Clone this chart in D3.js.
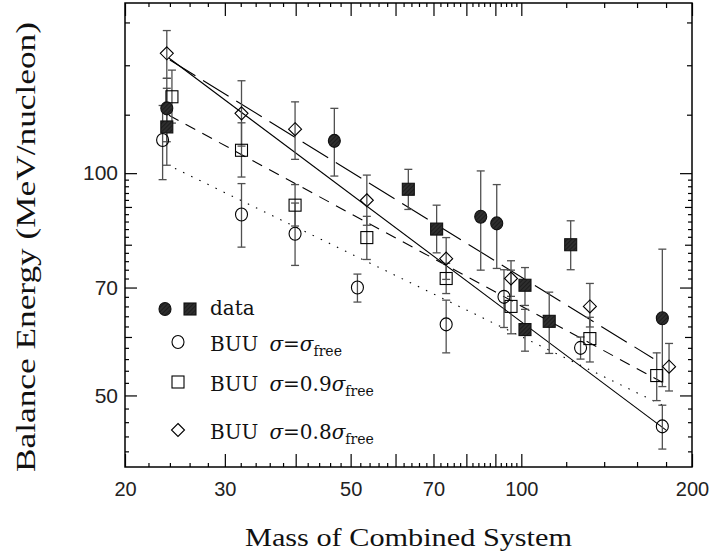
<!DOCTYPE html>
<html>
<head>
<meta charset="utf-8">
<script src="https://cdn.jsdelivr.net/npm/d3@7"></script>
<style>
  body { margin: 0; background: #fff; }
  svg { display: block; }
</style>
</head>
<body>
<div class="viz"></div>
<script>
// [mass, energy, errLow, errHigh]
const dataCircles = [
  [23.7, 122.4, 110.3, 134.4],
  [46.8, 110.6, 99.1, 122.4],
  [84.8, 87.3, 73.9, 100.7],
  [90.5, 85.5, 74.3, 96.5],
  [177.3, 63.6, 51.4, 78.9]
];
const dataSquares = [
  [23.7, 115.5, 102.5, 130.3],
  [63.2, 95.1, 89.3, 101.2],
  [70.9, 84.0, 78.0, 90.5],
  [101.5, 70.5, 66.2, 74.5],
  [101.5, 61.4, 57.4, 65.4],
  [112.0, 63.0, 57.0, 69.0],
  [122.2, 80.0, 74.0, 86.2]
];
const buuFree = [
  [23.3, 110.9, 98.0, 123.5],
  [32.1, 87.9, 79.4, 96.8],
  [39.9, 82.8, 75.0, 91.1],
  [51.4, 70.0, 66.9, 73.0],
  [73.7, 62.4, 57.1, 67.3],
  [93.2, 68.0, 61.8, 74.0],
  [127.2, 58.0, 56.0, 60.0],
  [177.3, 45.4, 42.3, 48.5]
];
const buu09 = [
  [24.2, 126.9, 116.9, 137.9],
  [32.1, 107.4, 98.8, 117.0],
  [39.9, 90.5, 84.8, 96.5],
  [53.4, 81.8, 76.4, 87.4],
  [73.7, 72.0, 68.7, 75.5],
  [95.9, 66.0, 60.6, 73.9],
  [132.1, 59.7, 55.5, 63.8],
  [173.3, 53.2, 49.2, 57.1]
];
const buu08 = [
  [23.7, 145.3, 134.4, 156.0],
  [32.1, 120.5, 108.8, 133.4],
  [39.9, 114.7, 104.4, 124.9],
  [53.4, 91.9, 85.0, 99.4],
  [73.7, 76.6, 71.8, 81.8],
  [95.9, 72.0, 68.1, 76.1],
  [132.1, 66.0, 61.9, 70.9],
  [182.2, 54.7, 50.7, 58.8]
];
// fit lines: [[mass, energy], [mass, energy]]
const fitSolid = [[23.9, 143.2], [180.5, 44.8]];
const fitLongDash = [[24.0, 142.3], [170.9, 56.1]];
const fitDash = [[23.9, 119.8], [180.5, 51.7]];
const fitDot = [[24.5, 101.5], [180.5, 48.2]];

const xLabelTicks = [20, 30, 50, 70, 100, 200];
const xTenTicks = [40, 60, 80, 90];
const xMinorTicks = d3.range(22, 100, 2).filter(v => v % 10 !== 0);
const xHighTicks = [120, 140, 160, 180];
const yLabelTicks = [50, 70, 100];
const yTenTicks = [60, 80, 90];
const yMinorTicks = d3.range(42, 100, 2).filter(v => v % 10 !== 0);
const yHighTicks = [120, 140, 160];

const width = 712, height = 557;
const mLeft = 125, mRight = 692, mTop = 3, mBottom = 467;

const svg = d3.select('.viz').append('svg')
  .attr('width', width).attr('height', height);

const x = d3.scaleLog().domain([20, 200]).range([mLeft, mRight]);
const y = d3.scaleLog().domain([40, 170]).range([mBottom, mTop]);

// hatched fill for data markers
const defs = svg.append('defs');
const pat = defs.append('pattern')
  .attr('id', 'hatch').attr('patternUnits', 'userSpaceOnUse')
  .attr('width', 3).attr('height', 3)
  .attr('patternTransform', 'rotate(45)');
pat.append('rect').attr('width', 3).attr('height', 3).attr('fill', '#2e2e2e');
pat.append('line').attr('x1', 0).attr('y1', 0).attr('x2', 0).attr('y2', 3)
  .attr('stroke', '#111').attr('stroke-width', 1.2);

// ticks on all four sides, pointing inward
function ticks(axisFn, pos, values, size, labels, pad) {
  const ax = axisFn(axisFn === d3.axisBottom || axisFn === d3.axisTop ? x : y)
    .tickValues(values).tickSize(size).tickPadding(pad || 6)
    .tickFormat(labels ? d3.format('d') : () => '');
  const g = svg.append('g').attr('transform', pos).call(ax);
  g.select('.domain').remove();
  g.selectAll('line').attr('stroke', '#000').attr('stroke-width', 1.2);
  return g;
}
const bt = `translate(0,${mBottom})`, tp = `translate(0,${mTop})`;
const lf = `translate(${mLeft},0)`, rt = `translate(${mRight},0)`;

const xb = ticks(d3.axisBottom, bt, xLabelTicks, -13, true, 15);
ticks(d3.axisBottom, bt, xTenTicks, -13, false);
ticks(d3.axisBottom, bt, xMinorTicks, -4, false);
ticks(d3.axisBottom, bt, xHighTicks, -5, false);
ticks(d3.axisBottom, tp, xLabelTicks.concat(xTenTicks), 13, false);
ticks(d3.axisBottom, tp, xMinorTicks, 4, false);
ticks(d3.axisBottom, tp, xHighTicks, 5, false);

const yl = ticks(d3.axisLeft, lf, yLabelTicks, -12, true, 7);
ticks(d3.axisLeft, lf, yTenTicks, -7, false);
ticks(d3.axisLeft, lf, yMinorTicks, -4, false);
ticks(d3.axisLeft, lf, yHighTicks, -5, false);
ticks(d3.axisLeft, rt, yLabelTicks, 12, false);
ticks(d3.axisLeft, rt, yTenTicks, 7, false);
ticks(d3.axisLeft, rt, yMinorTicks, 4, false);
ticks(d3.axisLeft, rt, yHighTicks, 5, false);

xb.selectAll('text').attr('font-family', 'Liberation Sans, Arial, sans-serif')
  .attr('font-size', 20).attr('fill', '#222');
yl.selectAll('text').attr('font-family', 'Liberation Sans, Arial, sans-serif')
  .attr('font-size', 21).attr('fill', '#222');

// frame
svg.append('rect')
  .attr('x', mLeft).attr('y', mTop)
  .attr('width', mRight - mLeft).attr('height', mBottom - mTop)
  .attr('fill', 'none').attr('stroke', '#000').attr('stroke-width', 1.5);

// fit lines
const line = d3.line().x(d => x(d[0])).y(d => y(d[1]));
[[fitSolid, null], [fitLongDash, '30,9'], [fitDash, '11,8'], [fitDot, '1.5,7.5']]
  .forEach(([pts, dash]) => {
    svg.append('path').datum(pts)
      .attr('d', line)
      .attr('fill', 'none').attr('stroke', '#000').attr('stroke-width', 1.1)
      .attr('stroke-dasharray', dash);
  });

// error bars
function errorBars(data) {
  const g = svg.append('g').attr('stroke', '#505050').attr('stroke-width', 1.3);
  g.selectAll('.bar').data(data).join('line')
    .attr('x1', d => x(d[0])).attr('x2', d => x(d[0]))
    .attr('y1', d => y(d[2])).attr('y2', d => y(d[3]));
  g.selectAll('.lo').data(data).join('line')
    .attr('x1', d => x(d[0]) - 4).attr('x2', d => x(d[0]) + 4)
    .attr('y1', d => y(d[2])).attr('y2', d => y(d[2]));
  g.selectAll('.hi').data(data).join('line')
    .attr('x1', d => x(d[0]) - 4).attr('x2', d => x(d[0]) + 4)
    .attr('y1', d => y(d[3])).attr('y2', d => y(d[3]));
}
[buuFree, buu09, buu08, dataSquares, dataCircles].forEach(errorBars);

// marker shapes
const shapes = {
  circle: (g, cx, cy, filled) => g.append('ellipse')
    .attr('cx', cx).attr('cy', cy).attr('rx', 6).attr('ry', 6.5)
    .attr('fill', filled ? 'url(#hatch)' : 'none')
    .attr('stroke', filled ? '#111' : '#000').attr('stroke-width', 1.1),
  square: (g, cx, cy, filled) => g.append('rect')
    .attr('x', cx - 6).attr('y', cy - 6).attr('width', 12).attr('height', 12)
    .attr('fill', filled ? 'url(#hatch)' : 'none')
    .attr('stroke', filled ? '#111' : '#000').attr('stroke-width', 1.1),
  diamond: (g, cx, cy) => g.append('path')
    .attr('d', `M${cx},${cy - 6.5}L${cx + 6.5},${cy}L${cx},${cy + 6.5}L${cx - 6.5},${cy}Z`)
    .attr('fill', 'none').attr('stroke', '#000').attr('stroke-width', 1.1)
};

function markers(data, shape, filled) {
  const g = svg.append('g');
  data.forEach(d => shapes[shape](g, x(d[0]), y(d[1]), filled));
}
markers(buuFree, 'circle', false);
markers(buu09, 'square', false);
markers(buu08, 'diamond', false);
markers(dataSquares, 'square', true);
markers(dataCircles, 'circle', true);

// legend
const leg = svg.append('g')
  .attr('font-family', 'DejaVu Serif, serif').attr('font-size', 20).attr('fill', '#111');
shapes.circle(leg, 165, 309, true);
shapes.square(leg, 190, 309, true);
leg.append('text').attr('x', 210).attr('y', 315).text('data');

const legendRows = [
  ['circle', 342, ''],
  ['square', 382, '0.9'],
  ['diamond', 430, '0.8']
];
legendRows.forEach(([shape, cy, factor]) => {
  shapes[shape](leg, 178, cy, false);
  const t = leg.append('text').attr('x', 210).attr('y', cy + 9);
  t.append('tspan').text('BUU');
  t.append('tspan').attr('dx', 11).attr('font-style', 'italic').text('σ');
  t.append('tspan').text('=' + factor);
  t.append('tspan').attr('font-style', 'italic').text('σ');
  t.append('tspan').attr('font-size', 14).attr('dy', 5).text('free');
});

// axis titles
svg.append('text')
  .attr('x', (mLeft + mRight) / 2).attr('y', 546)
  .attr('text-anchor', 'middle')
  .attr('font-family', 'Liberation Serif, serif').attr('font-size', 26)
  .attr('textLength', 327).attr('lengthAdjust', 'spacingAndGlyphs')
  .attr('fill', '#111')
  .text('Mass of Combined System');

svg.append('text')
  .attr('transform', 'translate(35,247) rotate(-90)')
  .attr('text-anchor', 'middle')
  .attr('font-family', 'Liberation Serif, serif').attr('font-size', 28)
  .attr('textLength', 450).attr('lengthAdjust', 'spacingAndGlyphs')
  .attr('fill', '#111')
  .text('Balance Energy (MeV/nucleon)');
</script>
</body>
</html>
